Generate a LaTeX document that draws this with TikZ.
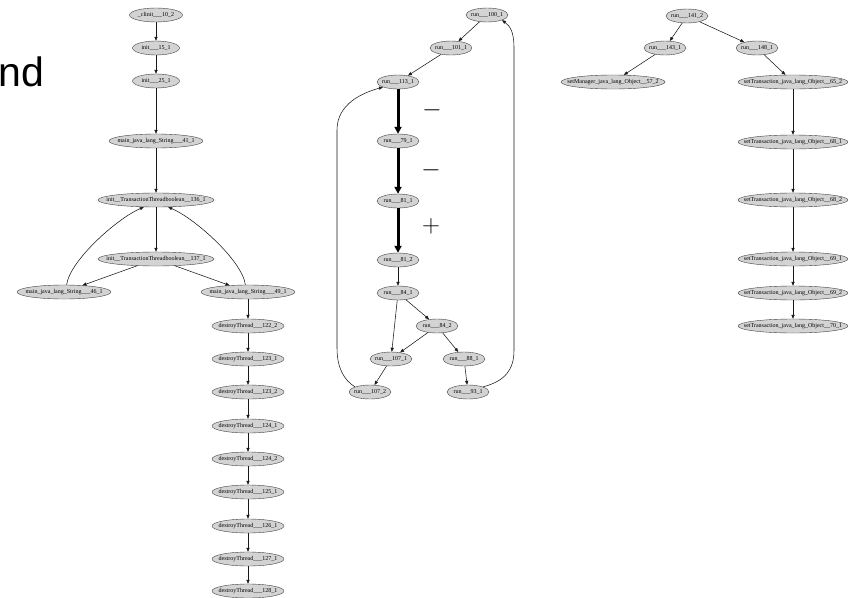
\documentclass[tikz,border=0pt]{standalone}
\usepackage{fontspec}
\usetikzlibrary{shapes.geometric,arrows.meta}
\newfontfamily\gvfont{Liberation Serif}
\newfontfamily\bigsans{Liberation Sans}
\definecolor{gvfill}{RGB}{211,211,211}
\tikzset{
  gnode/.style={ellipse, draw=black!75, fill=gvfill, line width=0.4pt,
    inner xsep=-40pt, inner ysep=0pt, minimum height=14pt,
    font=\gvfont\fontsize{6}{7}\selectfont},
  clinode/.style={gnode, minimum width=53pt},
  initnode/.style={gnode, minimum width=47pt},
  mainnode/.style={gnode, minimum width=94pt},
  trnode/.style={gnode, minimum width=116pt},
  dtnode/.style={gnode, minimum width=72pt},
  runnode/.style={gnode, minimum width=42pt},
  smnode/.style={gnode, minimum width=104pt},
  stnode/.style={gnode, minimum width=110pt},
  gedge/.style={draw=black!90, line width=0.55pt, -{Triangle[length=4pt,width=3.2pt]}},
  tedge/.style={draw=black, line width=3pt, -{Triangle[length=7pt,width=7pt]}},
  signtext/.style={font=\fontsize{24}{24}\selectfont, inner sep=0pt}
}
\begin{document}
\begin{tikzpicture}[x=1pt,y=-1pt]
\useasboundingbox (0,0) rectangle (848,597);
\fill[white] (0,0) rectangle (848,597);

% cut-off title text
\node[anchor=base west, inner sep=0pt, font=\bigsans\fontsize{41}{41}\selectfont] (title) at (-1.5,86) {nd};

% ---------- left graph ----------
\node[clinode] (c10) at (156,15) {\_clinit\_\_\_10\_2};
\node[initnode] (i15) at (156,48) {init\_\_\_15\_1};
\node[initnode] (i25) at (156,81) {init\_\_\_25\_1};
\node[mainnode] (m41) at (156,141) {main\_java\_lang\_String\_\_\_41\_1};
\node[trnode] (t136) at (156,200) {init\_\_TransactionThreadboolean\_\_136\_1};
\node[trnode] (t137) at (156,259) {init\_\_TransactionThreadboolean\_\_137\_1};
\node[mainnode] (m46) at (64,292) {main\_java\_lang\_String\_\_\_46\_1};
\node[mainnode] (m49) at (248,292) {main\_java\_lang\_String\_\_\_49\_1};
\node[dtnode] (d1222) at (248,326) {destroyThread\_\_\_122\_2};
\node[dtnode] (d1231) at (248,359) {destroyThread\_\_\_123\_1};
\node[dtnode] (d1232) at (248,392) {destroyThread\_\_\_123\_2};
\node[dtnode] (d1241) at (248,426) {destroyThread\_\_\_124\_1};
\node[dtnode] (d1242) at (248,459) {destroyThread\_\_\_124\_2};
\node[dtnode] (d1251) at (248,492) {destroyThread\_\_\_125\_1};
\node[dtnode] (d1261) at (248,526) {destroyThread\_\_\_126\_1};
\node[dtnode] (d1271) at (248,559) {destroyThread\_\_\_127\_1};
\node[dtnode] (d1281) at (248,591) {destroyThread\_\_\_128\_1};

\draw[gedge] (c10) -- (i15);
\draw[gedge] (i15) -- (i25);
\draw[gedge] (i25) -- (m41);
\draw[gedge] (m41) -- (t136);
\draw[gedge] (t136) -- (t137);
\draw[gedge] (t137) -- (m46);
\draw[gedge] (t137) -- (m49);
\draw[gedge] (m46.70) .. controls (70,260) and (118,218) .. (t136.210);
\draw[gedge] (m49.110) .. controls (242,260) and (194,218) .. (t136.330);
\draw[gedge] (m49) -- (d1222);
\draw[gedge] (d1222) -- (d1231);
\draw[gedge] (d1231) -- (d1232);
\draw[gedge] (d1232) -- (d1241);
\draw[gedge] (d1241) -- (d1242);
\draw[gedge] (d1242) -- (d1251);
\draw[gedge] (d1251) -- (d1261);
\draw[gedge] (d1261) -- (d1271);
\draw[gedge] (d1271) -- (d1281);

% ---------- middle graph ----------
\node[runnode] (r100) at (487,15) {run\_\_\_100\_1};
\node[runnode] (r101) at (451,48) {run\_\_\_101\_1};
\node[runnode] (r113) at (398,82) {run\_\_\_113\_1};
\node[runnode] (r79) at (398,141) {run\_\_\_79\_1};
\node[runnode] (r811) at (398,201) {run\_\_\_81\_1};
\node[runnode] (r812) at (398,260) {run\_\_\_81\_2};
\node[runnode] (r841) at (398,293) {run\_\_\_84\_1};
\node[runnode] (r842) at (437,326) {run\_\_\_84\_2};
\node[runnode] (r1071) at (391,359) {run\_\_\_107\_1};
\node[runnode] (r88) at (464,359) {run\_\_\_88\_1};
\node[runnode] (r1072) at (370,392) {run\_\_\_107\_2};
\node[runnode] (r93) at (468,392) {run\_\_\_93\_1};

\draw[gedge] (r100) -- (r101);
\draw[gedge] (r101) -- (r113);
\draw[tedge] (r113) -- (r79);
\draw[tedge] (r79) -- (r811);
\draw[tedge] (r811) -- (r812);
\draw[gedge] (r812) -- (r841);
\draw[gedge] (r841) -- (r1071);
\draw[gedge] (r841) -- (r842);
\draw[gedge] (r842) -- (r1071);
\draw[gedge] (r842) -- (r88);
\draw[gedge] (r1071) -- (r1072);
\draw[gedge] (r88) -- (r93);
\draw[gedge] (r1072.north west) .. controls (344,380) and (337,368) .. (337,348)
  -- (337,130) .. controls (337,104) and (362,93) .. (r113.south west);
\draw[gedge] (r93.north east) .. controls (505,381) and (514,370) .. (514,350)
  -- (514,48) .. controls (514,32) and (510,26) .. (r100.south east);

\node[signtext] (mA) at (432,110) {$-$};
\node[signtext] (mB) at (431,170) {$-$};
\node[signtext] (pC) at (431,226) {$+$};

% ---------- right graph ----------
\node[runnode] (r141) at (687,16) {run\_\_\_141\_2};
\node[runnode] (r143) at (665,48) {run\_\_\_143\_1};
\node[runnode] (r148) at (757,48) {run\_\_\_148\_1};
\node[smnode] (s57) at (613,82) {setManager\_java\_lang\_Object\_\_57\_2};
\node[stnode] (s65) at (793,82) {setTransaction\_java\_lang\_Object\_\_65\_2};
\node[stnode] (s681) at (793,142) {setTransaction\_java\_lang\_Object\_\_68\_1};
\node[stnode] (s682) at (793,200) {setTransaction\_java\_lang\_Object\_\_68\_2};
\node[stnode] (s691) at (793,259) {setTransaction\_java\_lang\_Object\_\_69\_1};
\node[stnode] (s692) at (793,293) {setTransaction\_java\_lang\_Object\_\_69\_2};
\node[stnode] (s701) at (793,326) {setTransaction\_java\_lang\_Object\_\_70\_1};

\draw[gedge] (r141) -- (r143);
\draw[gedge] (r141) -- (r148);
\draw[gedge] (r143) -- (s57);
\draw[gedge] (r148) -- (s65);
\draw[gedge] (s65) -- (s681);
\draw[gedge] (s681) -- (s682);
\draw[gedge] (s682) -- (s691);
\draw[gedge] (s691) -- (s692);
\draw[gedge] (s692) -- (s701);
\end{tikzpicture}
\end{document}
